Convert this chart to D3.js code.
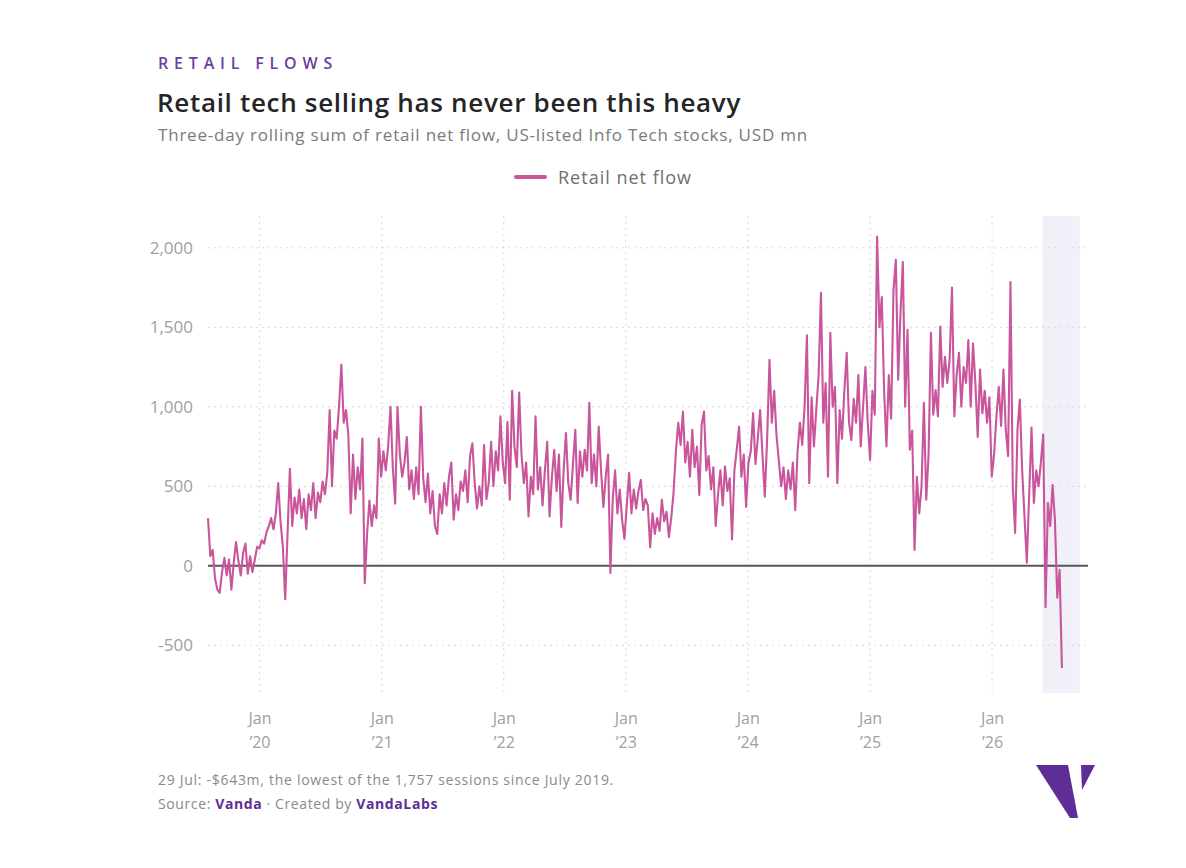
<!DOCTYPE html>
<html>
<head>
<meta charset="utf-8">
<script src="https://cdn.jsdelivr.net/npm/d3@7"></script>
<style>
  body { margin: 0; background: #fff; }
  svg { display: block; font-family: "Open Sans", Lato, sans-serif; }
</style>
</head>
<body>
<svg id="chart"></svg>
<script>
// weekly readings of the three-day rolling sum, USD mn, first point 31 Jul 2019
const startDate = '2019-07-31';
const flow2019 = [300, 60, 100, -80, -150, -170, -40, 50, -60, 40,
    -150, 20, 150, 30, -60, 80, 140, -50, 60, -40, 40, 120];
const flow2020 = [110, 160, 140, 210, 250, 300, 230, 330, 520, 280,
    120, -210, 200, 610, 250, 430, 330, 480, 300, 420,
    230, 450, 350, 520, 300, 460, 400, 530, 450, 590,
    980, 500, 850, 800, 1000, 1265, 900, 980, 820, 330,
    700, 420, 620, 480, 800, -110, 200, 410, 250, 380,
    300, 800, 560];
const flow2021 = [720, 600, 750, 1000, 620, 390, 1000, 700, 560, 650,
    810, 480, 600, 420, 620, 450, 1000, 550, 400, 580,
    330, 470, 250, 200, 450, 330, 520, 380, 560, 650,
    290, 450, 350, 530, 470, 600, 400, 690, 770, 520,
    360, 500, 380, 760, 420, 520, 780, 500, 720, 600,
    940, 650];
const flow2022 = [520, 905, 415, 1100, 750, 620, 1090, 700, 520, 650,
    310, 560, 450, 940, 480, 620, 380, 600, 780, 310,
    560, 730, 470, 700, 245, 600, 835, 520, 415, 640,
    855, 395, 720, 560, 730, 600, 1025, 520, 700, 500,
    875, 600, 370, 560, 700, -45, 420, 600, 330, 480,
    290, 170];
const flow2023 = [380, 585, 330, 480, 360, 470, 540, 350, 420, 380,
    115, 330, 200, 300, 220, 415, 280, 340, 180, 300,
    460, 720, 900, 760, 970, 650, 780, 560, 855, 620,
    750, 445, 885, 970, 600, 690, 480, 620, 250, 450,
    600, 380, 625, 470, 550, 165, 600, 730, 875, 560,
    700, 370];
const flow2024 = [650, 720, 960, 640, 800, 980, 700, 435, 800, 1295,
    900, 1100, 820, 660, 500, 620, 420, 600, 480, 650,
    350, 720, 900, 760, 1000, 1450, 520, 1060, 750, 980,
    1200, 1717, 900, 1150, 560, 1465, 1000, 1125, 520, 980,
    800, 1100, 1340, 900, 790, 1050, 900, 1200, 750, 1000,
    1250, 900];
const flow2025 = [665, 1100, 950, 2070, 1500, 1690, 1100, 750, 1200, 925,
    1735, 1925, 1170, 1590, 1910, 1000, 1485, 730, 850, 100,
    560, 330, 500, 1025, 415, 700, 1465, 950, 1105, 940,
    1505, 1125, 1315, 1150, 1300, 1750, 940, 1200, 1340, 1000,
    1250, 1150, 1420, 1000, 1400, 1150, 810, 1235, 960, 1100,
    900, 1060, 560];
const flow2026 = [700, 940, 1125, 880, 1235, 855, 690, 1785, 500, 207,
    855, 1045, 600, 310, 20, 450, 870, 395, 600, 500,
    650, 825, -260, 395, 250, 510, 290, -200, -25, -643];

const yTicks = [-500, 0, 500, 1000, 1500, 2000];
const xTickYears = [2020, 2021, 2022, 2023, 2024, 2025, 2026];
const xDomain = ['2019-07-31', '2026-10-15'];
const yDomain = [-800, 2200];
const highlight = ['2026-06-01', '2026-09-20'];

const props = {
    width: 1186, height: 868,
    plot: { left: 208, right: 1088, top: 216, bottom: 693 },
    colors: { line: '#c9559b', purple: '#5e2d96', grid: '#d9d9d9', axis: '#a0a0a0', zero: '#55555c', band: '#f1eff8' }
};

const parseDate = d3.timeParse('%Y-%m-%d');
const allFlow = [].concat(flow2019, flow2020, flow2021, flow2022, flow2023, flow2024, flow2025, flow2026);
const series = allFlow.map(function(v, i) {
    return { date: d3.timeDay.offset(parseDate(startDate), i * 7), value: v };
});
const fmt = d3.formatLocale({ decimal: '.', thousands: ',', grouping: [3], currency: ['$', ''], minus: '-' }).format(',');

const svg = d3.select('#chart')
    .attr('width', props.width)
    .attr('height', props.height);

const xScale = d3.scaleTime()
    .domain(xDomain.map(parseDate))
    .range([props.plot.left, props.plot.right]);
const yScale = d3.scaleLinear()
    .domain(yDomain)
    .range([props.plot.bottom, props.plot.top]);

// stretch a text's letter spacing to the width it has in the reference layout
function fitWidth(sel, w) {
    const len = sel.node().getComputedTextLength();
    const n = sel.text().length;
    sel.attr('letter-spacing', (w - len) / n);
}

function drawHeader() {
    svg.append('text')
        .attr('x', 158).attr('y', 69)
        .attr('fill', '#6b3fa2')
        .attr('font-size', 16).attr('font-weight', 600)
        .text('RETAIL FLOWS')
        .call(fitWidth, 180);
    svg.append('text')
        .attr('x', 157).attr('y', 112)
        .attr('fill', '#252528')
        .attr('font-size', 26).attr('font-weight', 600)
        .text('Retail tech selling has never been this heavy')
        .call(fitWidth, 584);
    svg.append('text')
        .attr('x', 158).attr('y', 141)
        .attr('fill', '#7a7a7a')
        .attr('font-size', 17)
        .text('Three-day rolling sum of retail net flow, US-listed Info Tech stocks, USD mn')
        .call(fitWidth, 650);

    const legend = svg.append('g').attr('transform', 'translate(516,177)');
    legend.append('line')
        .attr('x1', 0).attr('x2', 29)
        .attr('stroke', props.colors.line)
        .attr('stroke-width', 4)
        .attr('stroke-linecap', 'round');
    legend.append('text')
        .attr('x', 42).attr('y', 7)
        .attr('fill', '#6f6f6f')
        .attr('font-size', 18)
        .text('Retail net flow')
        .call(fitWidth, 134);
}

function drawGrid() {
    svg.append('rect')
        .attr('x', xScale(parseDate(highlight[0])))
        .attr('y', props.plot.top)
        .attr('width', xScale(parseDate(highlight[1])) - xScale(parseDate(highlight[0])))
        .attr('height', props.plot.bottom - props.plot.top)
        .attr('fill', props.colors.band);

    svg.append('g').selectAll('line')
        .data(yTicks.filter(function(t) { return t !== 0; }))
        .join('line')
        .attr('x1', props.plot.left).attr('x2', props.plot.right)
        .attr('y1', yScale).attr('y2', yScale)
        .attr('stroke', props.colors.grid)
        .attr('stroke-dasharray', '2,4');

    svg.append('g').selectAll('line')
        .data(xTickYears)
        .join('line')
        .attr('x1', function(d) { return xScale(new Date(d, 0, 1)); })
        .attr('x2', function(d) { return xScale(new Date(d, 0, 1)); })
        .attr('y1', props.plot.top).attr('y2', props.plot.bottom)
        .attr('stroke', props.colors.grid)
        .attr('stroke-dasharray', '2,4');
}

function drawAxes() {
    const yAxis = d3.axisLeft(yScale)
        .tickValues(yTicks)
        .tickSize(0)
        .tickPadding(15)
        .tickFormat(fmt);
    svg.append('g')
        .attr('transform', 'translate(' + props.plot.left + ',0)')
        .call(yAxis)
        .call(function(g) { g.select('.domain').remove(); })
        .selectAll('text')
        .attr('fill', props.colors.axis)
        .attr('font-size', 17)
        .attr('font-family', '"Open Sans", sans-serif');

    const xAxis = d3.axisBottom(xScale)
        .tickValues(xTickYears.map(function(d) { return new Date(d, 0, 1); }))
        .tickSize(0)
        .tickFormat('');
    const gx = svg.append('g')
        .attr('transform', 'translate(0,' + props.plot.bottom + ')')
        .call(xAxis);
    gx.select('.domain').remove();
    gx.selectAll('.tick').each(function(d) {
        const t = d3.select(this).select('text')
            .attr('fill', props.colors.axis)
            .attr('font-size', 16)
            .attr('font-family', '"Open Sans", sans-serif')
            .attr('dy', null)
            .attr('y', 31);
        t.append('tspan').attr('x', 0).text('Jan');
        t.append('tspan').attr('x', 0).attr('dy', 24).text('\u2019' + String(d.getFullYear()).slice(2));
    });
}

function drawLine() {
    svg.append('line')
        .attr('x1', props.plot.left).attr('x2', props.plot.right)
        .attr('y1', yScale(0)).attr('y2', yScale(0))
        .attr('stroke', props.colors.zero)
        .attr('stroke-width', 2);

    const line = d3.line()
        .x(function(d) { return xScale(d.date); })
        .y(function(d) { return yScale(d.value); });
    svg.append('path')
        .datum(series)
        .attr('d', line)
        .attr('fill', 'none')
        .attr('stroke', props.colors.line)
        .attr('stroke-width', 2.1)
        .attr('stroke-linejoin', 'round');
}

function drawFooter() {
    svg.append('text')
        .attr('x', 158).attr('y', 785)
        .attr('fill', '#8a8a8a')
        .attr('font-size', 14)
        .text('29 Jul: -$643m, the lowest of the 1,757 sessions since July 2019.')
        .call(fitWidth, 456);
    const src = svg.append('text')
        .attr('x', 158).attr('y', 809)
        .attr('fill', '#8a8a8a')
        .attr('font-size', 14);
    src.append('tspan').text('Source: ');
    src.append('tspan').attr('fill', props.colors.purple).attr('font-weight', 700).text('Vanda');
    src.append('tspan').text(' \u00b7 Created by ');
    src.append('tspan').attr('fill', props.colors.purple).attr('font-weight', 700).text('VandaLabs');
    fitWidth(src, 280);

    // brand mark
    const logo = svg.append('g').attr('fill', props.colors.purple);
    logo.append('path').attr('d', 'M1036,765 L1068,765 L1078,818 L1070,818 Z');
    logo.append('path').attr('d', 'M1081,765 L1095,765 L1082,790 Z');
}

drawHeader();
drawGrid();
drawAxes();
drawLine();
drawFooter();
</script>
</body>
</html>
